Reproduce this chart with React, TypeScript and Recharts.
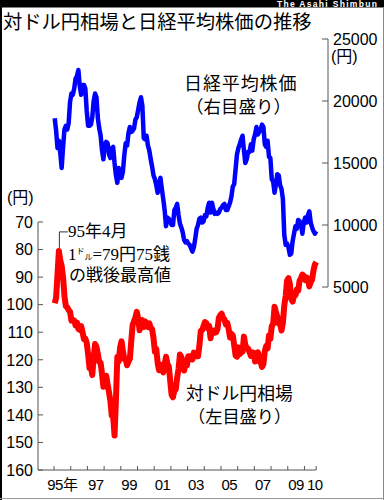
import React from 'react';
import { ComposedChart, Line, XAxis, YAxis, ReferenceLine } from 'recharts';

const startYear = 1995;

// 日経平均株価（月ごと、1995年1月〜2010年9月、円）
const nikkei: number[] = [
  18600, 17600, 16200, 16800, 15800, 14600, 16300, 17700, 18000, 17700, 18200, 19900, // 1995
  20600, 20500, 21000, 21800, 22000, 22500, 21200, 20500, 21300, 21300, 21000, 19200, // 1996
  18000, 18000, 18100, 18700, 20000, 20600, 20300, 18600, 17800, 17200, 16000, 15300, // 1997
  16500, 16700, 16600, 15700, 15400, 16200, 16300, 15000, 14000, 13400, 14600, 14000, // 1998
  13800, 14300, 15600, 16600, 16400, 17400, 17900, 17500, 17600, 17800, 18500, 18700, // 1999
  19300, 19900, 20300, 19600, 17000, 16900, 17200, 16400, 16000, 15300, 14700, 14000, // 2000
  13700, 13200, 12600, 13400, 13800, 12900, 12100, 11200, 9900, 10600, 10500, 10300, // 2001
  10000, 10000, 11200, 11400, 11700, 10800, 10100, 9800, 9400, 8800, 8600, 8700, // 2002
  8500, 8400, 8100, 7850, 8200, 8900, 9700, 10000, 10500, 10600, 10200, 10300, // 2003
  10800, 10700, 11400, 11800, 11000, 11800, 11300, 10900, 11000, 10900, 11000, 11300, // 2004
  11400, 11600, 11700, 11200, 11200, 11500, 11800, 12300, 13100, 13300, 14500, 15700, // 2005
  16200, 16500, 16900, 17200, 16000, 15000, 15300, 15900, 15900, 16500, 16000, 16900, // 2006
  17300, 17900, 17300, 17500, 17700, 18100, 17900, 16500, 16300, 16800, 15500, 15400, // 2007
  13700, 13500, 12600, 13300, 14100, 14000, 13200, 12900, 12100, 9200, 8400, 8500, // 2008
  8200, 7600, 7700, 8700, 9300, 9900, 9700, 10400, 10300, 10000, 9300, 10200, // 2009
  10600, 10200, 10800, 11100, 10200, 9800, 9500, 9300, 9500, // 2010
];

// 対ドル円相場（月ごと、1ドル＝円）
const yen: number[] = [
  99.5, 97.5, 89.0, 80.5, 84.0, 86.0, 90.0, 97.0, 100.5, 101.0, 102.0, 102.5, // 1995
  105.8, 105.5, 105.8, 107.5, 106.5, 108.8, 109.2, 107.8, 110.0, 112.5, 112.3, 113.9, // 1996
  118.0, 123.0, 122.7, 125.5, 118.9, 114.3, 115.4, 117.9, 120.8, 121.1, 125.2, 129.8, // 1997
  129.5, 125.8, 129.0, 131.8, 134.9, 140.3, 140.7, 147.5, 134.5, 119.0, 120.6, 115.5, // 1998
  113.3, 116.7, 119.7, 119.7, 122.0, 120.7, 119.7, 113.3, 107.4, 106.0, 104.7, 102.6, // 1999
  105.2, 109.3, 106.3, 105.6, 108.1, 106.1, 107.8, 108.1, 106.8, 108.4, 108.9, 112.2, // 2000
  117.1, 116.1, 121.2, 123.8, 121.8, 122.2, 124.6, 121.6, 118.9, 121.5, 122.4, 127.6, // 2001
  132.7, 133.6, 131.1, 130.8, 126.4, 123.3, 118.1, 119.0, 120.5, 123.9, 121.5, 122.0, // 2002
  118.7, 119.3, 118.7, 119.9, 117.4, 118.3, 118.7, 118.7, 114.8, 109.5, 109.2, 107.7, // 2003
  106.3, 106.7, 108.5, 107.7, 112.2, 109.4, 109.4, 110.2, 110.0, 108.8, 104.7, 103.8, // 2004
  103.3, 104.9, 105.3, 107.2, 106.6, 108.8, 111.9, 110.6, 111.2, 114.8, 118.5, 118.9, // 2005
  115.5, 117.9, 117.3, 117.1, 111.6, 114.6, 115.7, 115.9, 117.2, 118.6, 117.3, 117.4, // 2006
  120.6, 120.5, 117.3, 118.9, 120.8, 122.6, 121.6, 116.8, 115.0, 115.9, 111.2, 112.4, // 2007
  107.8, 107.0, 100.8, 102.7, 104.4, 106.9, 106.9, 109.4, 106.6, 100.3, 96.8, 91.3, // 2008
  90.4, 92.5, 97.9, 98.9, 96.6, 96.6, 94.5, 94.9, 91.3, 90.4, 89.1, 89.6, // 2009
  91.1, 90.1, 90.7, 93.4, 91.8, 90.9, 87.6, 85.4, 84.5, // 2010
];

const yearStarts = [1995, 1996, 1997, 1998, 1999, 2000, 2001, 2002, 2003, 2004, 2005, 2006, 2007, 2008, 2009, 2010];
const axisEnd = 2010.7;
const yearLabels = ['95年', '97', '99', '01', '03', '05', '07', '09', '10'];
const yearLabelPos = [1995.5, 1997.5, 1999.5, 2001.5, 2003.5, 2005.5, 2007.5, 2009.5, 2010.62];
const yenTicks = [70, 80, 90, 100, 110, 120, 130, 140, 150, 160];
const nikkeiTicks = [5000, 10000, 15000, 20000, 25000];

const xDomain: [number, number] = [1994.04, 2011.41];
const yenDomain: [number, number] = [3.6, 160];
const nikkeiDomain: [number, number] = [-9758, 25000];

const data = yen.map((v, i) => ({
  t: startYear + (i + 0.5) / 12,
  yen: v,
  nikkei: nikkei[i],
}));

const xTicks = [...yearStarts, axisEnd, ...yearLabelPos];

const axisColor = '#555';
const numFont = "'Liberation Sans', 'Noto Sans CJK JP', sans-serif";
const jpFont = "'Noto Sans CJK JP', sans-serif";
const serifFont = "'Liberation Serif', 'DejaVu Serif', 'Noto Sans CJK JP', serif";

const LeftTick = (props: any) => {
  const { x, y, payload } = props;
  return (
    <g>
      <line x1={x} x2={x + 5} y1={y} y2={y} stroke={axisColor} />
      <text x={x - 5} y={y} dy="0.36em" textAnchor="end" fontSize={16} fontFamily={numFont} fill="#000">
        {payload.value}
      </text>
    </g>
  );
};

const RightTick = (props: any) => {
  const { x, y, payload } = props;
  return (
    <g>
      <line x1={x - 6} x2={x} y1={y} y2={y} stroke={axisColor} />
      <text x={x + 5} y={y} dy="0.36em" textAnchor="start" fontSize={16} fontFamily={numFont} fill="#000">
        {payload.value}
      </text>
    </g>
  );
};

const BottomTick = (props: any) => {
  const { x, y, payload } = props;
  const idx = yearLabelPos.findIndex((p) => Math.abs(p - payload.value) < 0.001);
  if (idx >= 0) {
    return (
      <text x={x} y={y + 20} textAnchor="middle" fontSize={15} fontFamily={numFont} fill="#000" letterSpacing={-0.5}>
        {yearLabels[idx]}
      </text>
    );
  }
  return <line x1={x} x2={x} y1={y - 4} y2={y} stroke={axisColor} />;
};

export default function App() {
  return (
    <div style={{ position: 'absolute', left: 0, top: 0, width: 384, height: 500, background: '#fff' }}>
      <ComposedChart width={384} height={500} data={data} margin={{ top: 39, right: 0, bottom: 0, left: 0 }}>
        <XAxis
          dataKey="t"
          type="number"
          domain={xDomain}
          ticks={xTicks}
          interval={0}
          axisLine={false}
          tickLine={false}
          tickSize={0}
          tickMargin={0}
          height={30}
          tick={<BottomTick />}
        />
        <YAxis
          yAxisId="left"
          orientation="left"
          type="number"
          domain={yenDomain}
          reversed
          ticks={yenTicks}
          interval={0}
          axisLine={false}
          tickLine={false}
          tickSize={0}
          tickMargin={0}
          width={38}
          tick={<LeftTick />}
        />
        <YAxis
          yAxisId="right"
          orientation="right"
          type="number"
          domain={nikkeiDomain}
          ticks={nikkeiTicks}
          interval={0}
          axisLine={false}
          tickLine={false}
          tickSize={0}
          tickMargin={0}
          width={56}
          tick={<RightTick />}
        />
        {/* axis lines */}
        <ReferenceLine
          yAxisId="left"
          segment={[{ x: xDomain[0], y: 70 }, { x: xDomain[0], y: 160 }]}
          stroke={axisColor}
          ifOverflow="visible"
        />
        <ReferenceLine
          yAxisId="left"
          segment={[{ x: xDomain[0], y: 160 }, { x: axisEnd, y: 160 }]}
          stroke={axisColor}
          ifOverflow="visible"
        />
        <ReferenceLine
          yAxisId="right"
          segment={[{ x: xDomain[1], y: 5000 }, { x: xDomain[1], y: 25000 }]}
          stroke={axisColor}
          ifOverflow="visible"
        />
        {/* 95年4月 annotation leader */}
        <ReferenceLine
          yAxisId="left"
          segment={[{ x: 1995.32, y: 79.6 }, { x: 1995.32, y: 73.6 }]}
          stroke="#333"
          ifOverflow="visible"
        />
        <ReferenceLine
          yAxisId="left"
          segment={[{ x: 1995.32, y: 73.6 }, { x: 1995.84, y: 73.6 }]}
          stroke="#333"
          ifOverflow="visible"
        />
        <Line
          yAxisId="right"
          dataKey="nikkei"
          type="linear"
          stroke="#0000ff"
          strokeWidth={4.5}
          strokeLinejoin="round"
          dot={false}
          isAnimationActive={false}
        />
        <Line
          yAxisId="left"
          dataKey="yen"
          type="linear"
          stroke="#ff0000"
          strokeWidth={6}
          strokeLinejoin="round"
          dot={false}
          isAnimationActive={false}
        />
      </ComposedChart>

      <svg
        width={384}
        height={500}
        style={{ position: 'absolute', left: 0, top: 0, pointerEvents: 'none' }}
      >
        <rect x={0} y={0} width={384} height={7.5} fill="#000" />
        <text x={277} y={6.6} fontSize={8.5} fontWeight="bold" fontFamily={numFont} fill="#fff" letterSpacing={1.3}>
          The Asahi Shimbun
        </text>
        <rect x={0} y={0} width={2} height={500} fill="#000" />
        <rect x={383} y={7} width={1} height={493} fill="#888" />
        <rect x={0} y={498} width={384} height={1} fill="#999" />

        <text x={3} y={28.5} fontSize={19.3} fontFamily={jpFont} fill="#000">
          対ドル円相場と日経平均株価の推移
        </text>

        <text x={7} y={203} fontSize={16} fontFamily={numFont} fill="#000">(円)</text>
        <text x={331} y={62} fontSize={16} fontFamily={numFont} fill="#000">(円)</text>

        <text x={184} y={90} fontSize={18} fontFamily={jpFont} fill="#000" letterSpacing={0.9}>日経平均株価</text>
        <text x={186} y={113} fontSize={17.5} fontFamily={jpFont} fill="#000">（右目盛り）</text>

        <text x={186} y={400} fontSize={17.8} fontFamily={jpFont} fill="#000">対ドル円相場</text>
        <text x={188} y={423} fontSize={17.2} fontFamily={jpFont} fill="#000">（左目盛り）</text>

        <text x={68} y={237} fontSize={17} fontFamily={serifFont} fill="#000">95年4月</text>
        <text x={68} y={260} fontSize={17} fontFamily={serifFont} fill="#000">
          1
          <tspan fontSize={8} dy={-6}>ド</tspan>
          <tspan fontSize={8} dy={6}>ル</tspan>
          <tspan>=79円75銭</tspan>
        </text>
        <text x={69} y={281} fontSize={17} fontFamily={serifFont} fill="#000">の戦後最高値</text>
      </svg>
    </div>
  );
}
